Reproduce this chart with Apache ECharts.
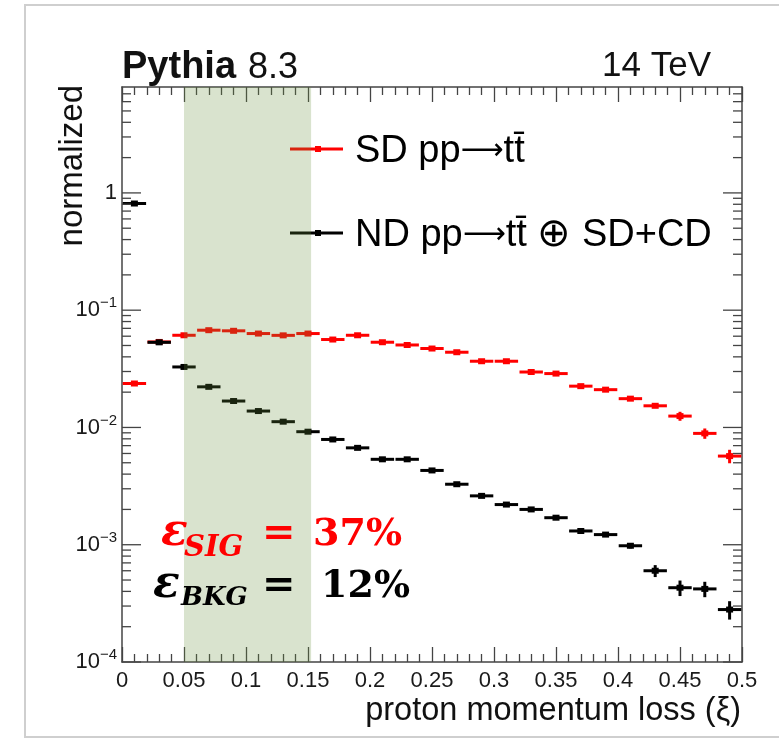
<!DOCTYPE html>
<html><head><meta charset="utf-8">
<script src="https://cdn.jsdelivr.net/npm/echarts@6/dist/echarts.min.js"></script>
<style>html,body{margin:0;padding:0;background:#fff}#c{width:779px;height:741px}</style>
</head><body><div id="c"></div>
<script>
// ---- data ----
const binCenters = [0.01,0.03,0.05,0.07,0.09,0.11,0.13,0.15,0.17,0.19,0.21,0.23,0.25,0.27,0.29,0.31,0.33,0.35,0.37,0.39,0.41,0.43,0.45,0.47,0.49];
const binWidth = 0.02;
const sdValues = [0.0237,0.0536,0.0611,0.0675,0.0667,0.0632,0.061,0.0632,0.0562,0.0611,0.0533,0.0505,0.0471,0.0438,0.0367,0.0367,0.0297,0.0288,0.0225,0.021,0.0176,0.0153,0.0125,0.0089,0.0057];
const sdErrors = [0.0006,0.0010,0.0011,0.0012,0.0012,0.0011,0.0011,0.0011,0.0010,0.0011,0.0010,0.0010,0.0009,0.0009,0.0008,0.0008,0.0007,0.0007,0.0006,0.0006,0.0006,0.0006,0.0011,0.0009,0.00075];
const ndValues = [0.812,0.0532,0.0328,0.0222,0.0168,0.0138,0.0112,0.0092,0.0079,0.0067,0.00535,0.00535,0.0043,0.00328,0.00261,0.0022,0.0020,0.0017,0.00131,0.00122,0.00098,0.0006,0.00043,0.00042,0.00028];
const ndErrors = [0.01,0.001,0.0006,0.0004,0.0003,0.0003,0.0002,0.0002,0.00015,0.00013,0.00011,0.00011,0.0001,0.00008,0.00007,0.00006,0.00006,0.00005,0.00005,0.00005,0.00005,0.00007,0.000065,0.000063,0.00005];
const selectionBand = [0.05, 0.1525];
const xRange = [0, 0.5];
const yRange = [1e-4, 8];
const yMajorTicks = [1e-4, 1e-3, 1e-2, 1e-1, 1];
const yMinorMultipliers = [2,3,4,5,6,7,8,9];
const legendLabels = ['{t|SD pp}{a|\u27f6}{t|tt\u0304}', '{t|ND pp}{a|\u27f6}{t|tt\u0304 }{o|\u2295}{t| SD+CD}'];
const seriesColors = ['#ff0000', '#000000'];

// ---- helpers ----
const axisColor = '#444';
const yMinorTicks = [];
yMajorTicks.forEach(d => yMinorMultipliers.forEach(m => { const v = d * m; if (v < yRange[1]) yMinorTicks.push(v); }));

function pointsSeries(name, values, errors, color, z) {
  return {
    type: 'custom', name: name, z: z, clip: false,
    data: binCenters.map((x, i) => [x, values[i], errors[i]]),
    encode: { x: 0, y: 1 },
    renderItem: function (params, api) {
      const x = api.value(0), y = api.value(1), e = api.value(2);
      const pL = api.coord([x - binWidth / 2, y]);
      const pR = api.coord([x + binWidth / 2, y]);
      const pT = api.coord([x, y + e]);
      const pB = api.coord([x, Math.max(y - e, 1e-6)]);
      const c = api.coord([x, y]);
      return { type: 'group', children: [
        { type: 'line', shape: { x1: pL[0] + 0.7, y1: c[1], x2: pR[0] - 0.7, y2: c[1] }, style: { stroke: color, lineWidth: 3 } },
        { type: 'line', shape: { x1: c[0], y1: pT[1], x2: c[0], y2: pB[1] }, style: { stroke: color, lineWidth: 3 } },
        { type: 'rect', shape: { x: c[0] - 3.5, y: c[1] - 3, width: 7, height: 6 }, style: { fill: color } }
      ]};
    }
  };
}
function yTickSeries(values, len) {
  return {
    type: 'custom', z: 6, silent: true, clip: false,
    data: values.map(v => [0, v]),
    encode: { x: 0, y: 1 },
    renderItem: function (params, api) {
      const v = api.value(1);
      const l = api.coord([xRange[0], v]);
      const r = api.coord([xRange[1], v]);
      return { type: 'group', children: [
        { type: 'line', shape: { x1: l[0], y1: l[1], x2: l[0] + len, y2: l[1] }, style: { stroke: axisColor, lineWidth: 1.3 } },
        { type: 'line', shape: { x1: r[0], y1: r[1], x2: r[0] - len, y2: r[1] }, style: { stroke: axisColor, lineWidth: 1.3 } }
      ]};
    }
  };
}
function yLabel(v) {
  const p = Math.log10(v);
  const r = Math.round(p);
  if (Math.abs(p - r) > 1e-6) return '';
  if (r === 0) return '{b|1}';
  return '{b|10}{s|\u2212' + Math.abs(r) + '}';
}
const xAxisBase = {
  type: 'value', min: xRange[0], max: xRange[1], interval: 0.05,
  axisLine: { show: true, onZero: false, lineStyle: { color: axisColor, width: 1.5 } },
  axisTick: { show: true, inside: true, length: 15, lineStyle: { color: axisColor, width: 1.3 } },
  minorTick: { show: true, splitNumber: 5, length: 8, lineStyle: { color: axisColor, width: 1.3 } },
  splitLine: { show: false }, minorSplitLine: { show: false }
};
const yAxisBase = {
  type: 'log', logBase: 10, min: yRange[0], max: yRange[1],
  axisLine: { show: true, onZero: false, lineStyle: { color: axisColor, width: 1.5 } },
  axisTick: { show: false }, splitLine: { show: false }
};

const chart = echarts.init(document.getElementById('c'), null, { renderer: 'canvas' });
const FONT = 'Liberation Sans, Arial, sans-serif';
const SERIF = 'DejaVu Serif, serif';
const legendRich = {
  t: { fontSize: 38, fontFamily: FONT, color: '#111' },
  a: { fontSize: 30, fontFamily: 'DejaVu Sans', color: '#111', padding: [0, 0, 2, 0] },
  o: { fontSize: 40, fontFamily: 'DejaVu Sans', fontWeight: 'lighter', color: '#111' }
};
chart.setOption({
  animation: false,
  backgroundColor: '#ffffff',
  grid: { left: 122, right: 37, top: 87, bottom: 79 },
  xAxis: [
    Object.assign({}, xAxisBase, { position: 'bottom',
      axisLabel: { show: true, fontSize: 22, fontFamily: FONT, color: '#1a1a1a', margin: 8 } }),
    Object.assign({}, xAxisBase, { position: 'top', axisLabel: { show: false } })
  ],
  yAxis: [
    Object.assign({}, yAxisBase, { position: 'left',
      axisLabel: { show: true, margin: 5, formatter: yLabel, color: '#1a1a1a',
        rich: { b: { fontSize: 22, fontFamily: FONT, color: '#1a1a1a' },
                s: { fontSize: 15, fontFamily: FONT, color: '#1a1a1a', verticalAlign: 'top', padding: [0, 0, 14, 0] } } } }),
    Object.assign({}, yAxisBase, { position: 'right', axisLabel: { show: false } })
  ],
  series: [
    pointsSeries('SD', sdValues, sdErrors, seriesColors[0], 2),
    pointsSeries('ND', ndValues, ndErrors, seriesColors[1], 3),
    yTickSeries(yMajorTicks, 19),
    yTickSeries(yMinorTicks, 9),
    { type: 'line', data: [], z: 5, silent: true,
      markArea: { silent: true, z: 5, itemStyle: { color: 'rgba(105,145,60,0.25)' },
        data: [[{ xAxis: selectionBand[0] }, { xAxis: selectionBand[1] }]] } }
  ],
  graphic: [
    { type: 'rect', z: 0, silent: true, shape: { x: 25, y: 5, width: 800, height: 732 },
      style: { fill: 'none', stroke: '#cfcfcf', lineWidth: 2 } },
    // legend (drawn under the band)
    { type: 'line', z: 1, shape: { x1: 290, y1: 149, x2: 343, y2: 149 }, style: { stroke: seriesColors[0], lineWidth: 3 } },
    { type: 'rect', z: 1, shape: { x: 315, y: 146, width: 6, height: 6 }, style: { fill: seriesColors[0] } },
    { type: 'line', z: 1, shape: { x1: 290, y1: 233, x2: 343, y2: 233 }, style: { stroke: seriesColors[1], lineWidth: 3 } },
    { type: 'rect', z: 1, shape: { x: 315, y: 230, width: 6, height: 6 }, style: { fill: seriesColors[1] } },
    { type: 'text', z: 10, x: 355, y: 152, style: { text: legendLabels[0], rich: legendRich, textVerticalAlign: 'middle' } },
    { type: 'text', z: 10, x: 355, y: 236, style: { text: legendLabels[1], rich: legendRich, textVerticalAlign: 'middle' } },
    // header
    { type: 'text', z: 10, x: 122, y: 68, style: { text: 'Pythia', font: 'bold 38px ' + FONT, fill: '#111', textVerticalAlign: 'middle' } },
    { type: 'text', z: 10, x: 248, y: 68, style: { text: '8.3', font: '36px ' + FONT, fill: '#111', textVerticalAlign: 'middle' } },
    { type: 'text', z: 10, x: 711, y: 66, style: { text: '14 TeV', font: '35px ' + FONT, fill: '#111', textAlign: 'right', textVerticalAlign: 'middle' } },
    // axis titles
    { type: 'text', z: 10, x: 741, y: 711, style: { text: 'proton momentum loss (\u03be)', font: '32.5px ' + FONT, fill: '#111', textAlign: 'right', textVerticalAlign: 'middle' } },
    { type: 'text', z: 10, x: 73, y: 85, rotation: Math.PI / 2, style: { text: 'normalized', font: '33px ' + FONT, fill: '#111', textAlign: 'right', textVerticalAlign: 'middle' } },
    // efficiencies
    { type: 'text', z: 10, x: 161, y: 534, style: { text: '\u03b5', font: 'bold italic 44px ' + SERIF, fill: '#ff0000', textVerticalAlign: 'middle' } },
    { type: 'text', z: 10, x: 184, y: 548, style: { text: 'SIG', font: 'bold italic 29px ' + SERIF, fill: '#ff0000', textVerticalAlign: 'middle' } },
    { type: 'text', z: 10, x: 262, y: 535, style: { text: '=', font: 'bold 40px ' + SERIF, fill: '#ff0000', textVerticalAlign: 'middle' } },
    { type: 'text', z: 10, x: 313, y: 535, style: { text: '37%', font: 'bold 38px ' + SERIF, fill: '#ff0000', textVerticalAlign: 'middle' } },
    { type: 'text', z: 10, x: 153, y: 586, style: { text: '\u03b5', font: 'bold italic 44px ' + SERIF, fill: '#000', textVerticalAlign: 'middle' } },
    { type: 'text', z: 10, x: 181, y: 598, style: { text: 'BKG', font: 'bold italic 26px ' + SERIF, fill: '#000', textVerticalAlign: 'middle' } },
    { type: 'text', z: 10, x: 262, y: 587, style: { text: '=', font: 'bold 40px ' + SERIF, fill: '#000', textVerticalAlign: 'middle' } },
    { type: 'text', z: 10, x: 321, y: 587, style: { text: '12%', font: 'bold 38px ' + SERIF, fill: '#000', textVerticalAlign: 'middle' } }
  ]
});
</script></body></html>
